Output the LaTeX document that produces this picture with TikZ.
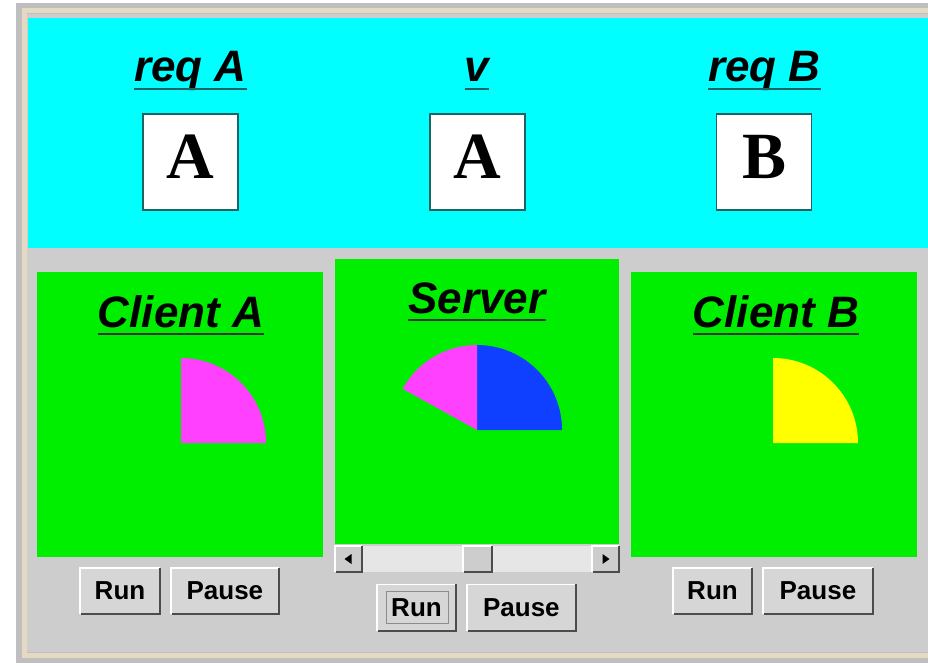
\documentclass[tikz,border=0pt]{standalone}
\usepackage{fontspec}
\usepackage{xcolor}
\usepackage{tikz}
\usetikzlibrary{positioning}
\newfontfamily\guisans{Liberation Sans}
\newfontfamily\guiserif{Liberation Serif}
\definecolor{wingray}{RGB}{205,205,205}
\definecolor{framebeige}{RGB}{228,218,196}
\definecolor{skycyan}{RGB}{0,255,255}
\definecolor{appgreen}{RGB}{0,238,0}
\definecolor{pinkpie}{RGB}{255,64,255}
\definecolor{bluepie}{RGB}{16,64,255}
\definecolor{yellowpie}{RGB}{255,255,0}
\definecolor{tealline}{RGB}{30,100,100}
\definecolor{btnface}{RGB}{214,214,214}
\definecolor{trackgray}{RGB}{230,230,230}
\tikzset{
    panel/.style={fill=appgreen, minimum width=286pt, minimum height=285pt, inner sep=0pt},
    heading/.style={font=\guisans\bfseries\itshape\fontsize{44}{44}\selectfont, inner sep=0pt, anchor=base},
    uline/.style={line width=2.2pt},
    letterbox/.style={draw=tealline, line width=1.5pt, fill=white, minimum width=95pt, minimum height=96pt,
        inner sep=0pt, text depth=10pt, font=\guiserif\bfseries\fontsize{66}{66}\selectfont},
    btn/.style={fill=btnface, minimum height=46pt, inner sep=0pt, font=\guisans\bfseries\fontsize{26}{26}\selectfont},
    sbtn/.style={fill=wingray, minimum width=27pt, minimum height=26pt, inner sep=0pt},
    lite/.style={white, line width=1.5pt},
    dark/.style={black!70, line width=2pt}
}
\begin{document}
\begin{tikzpicture}[x=1pt, y=1pt]
            \useasboundingbox (0,0) rectangle (928,665);
            \fill[white] (0,0) rectangle (928,665);
            % window frame
            \fill[black!25] (16,2) rectangle (928,662);
            \draw[framebeige, line width=5pt] (24,10) rectangle (940,654);
            \fill[wingray] (27,13) rectangle (928,651);
            \fill[skycyan] (28,417) rectangle (928,647);

            % shared values
            \node[heading] (reqA) at (190.5,583) {req A};
            \node[heading] (v) at (477,583) {v};
            \node[heading] (reqB) at (764.5,583) {req B};
            \node[letterbox] (boxA) at (190.5,503) {A};
            \node[letterbox] (boxV) at (477.5,503) {A};
            \node[letterbox] (boxB) at (764,503) {B};

            % threads
            \node[panel] (clientA) at (180,250.5) {};
            \node[panel, minimum width=284pt] (server) at (477,263.5) {};
            \node[panel] (clientB) at (773.5,250.5) {};
            \node[heading] (titleA) at (181,338) {Client A};
            \node[heading] (titleS) at (477,352) {Server};
            \node[heading] (titleB) at (776,338) {Client B};
            \foreach \t/\c in {reqA/tealline, v/tealline, reqB/tealline, titleA/black!80, titleS/black!80, titleB/black!80}
                \draw[uline, \c] ([yshift=-7pt]\t.base west) -- ([yshift=-7pt]\t.base east);

            % pies
            \coordinate (pieA) at (181,222);
            \coordinate (pieS) at (477,235);
            \coordinate (pieB) at (773,222);
            \fill[pinkpie] (pieA) -- +(85,0) arc[start angle=0, end angle=90, radius=85] -- cycle;
            \fill[bluepie] (pieS) -- +(85,0) arc[start angle=0, end angle=90, radius=85] -- cycle;
            \fill[pinkpie] (pieS) -- +(0,85) arc[start angle=90, end angle=151, radius=85] -- cycle;
            \fill[yellowpie] (pieB) -- +(85,0) arc[start angle=0, end angle=90, radius=85] -- cycle;

            % scrollbar
            \node[sbtn] (sleft) at (348.5,106) {};
            \node[sbtn] (sright) at (605.5,106) {};
            \fill[trackgray] (sleft.south east) rectangle (sright.north west);
            \node[sbtn, minimum width=29pt] (thumb) at (477.5,106) {};
            \fill (sleft.center) ++(-4,0) -- ++(7,5) -- ++(0,-10) -- cycle;
            \fill (sright.center) ++(4,0) -- ++(-7,5) -- ++(0,-10) -- cycle;

            % buttons
            \node[btn, minimum width=80pt] (runA) at (120,74) {Run};
            \node[btn, minimum width=107pt, right=11pt of runA] (pauseA) {Pause};
            \node[btn, minimum width=79pt] (runS) at (416.5,57.5) {Run};
            \node[btn, minimum width=108pt, right=11pt of runS] (pauseS) {Pause};
            \node[btn, minimum width=79pt] (runB) at (712.5,74) {Run};
            \node[btn, minimum width=109pt, right=11pt of runB] (pauseB) {Pause};
            \draw[black!45, line width=1pt] ([shift={(10pt,7pt)}]runS.south west) rectangle ([shift={(-8pt,-7pt)}]runS.north east);
            \foreach \b in {runA, pauseA, runS, pauseS, runB, pauseB, sleft, sright, thumb} {
                \draw[lite] (\b.south west) |- (\b.north east);
                \draw[dark] ([xshift=1pt]\b.south west) -| (\b.north east);
            }
        \end{tikzpicture}
\end{document}
